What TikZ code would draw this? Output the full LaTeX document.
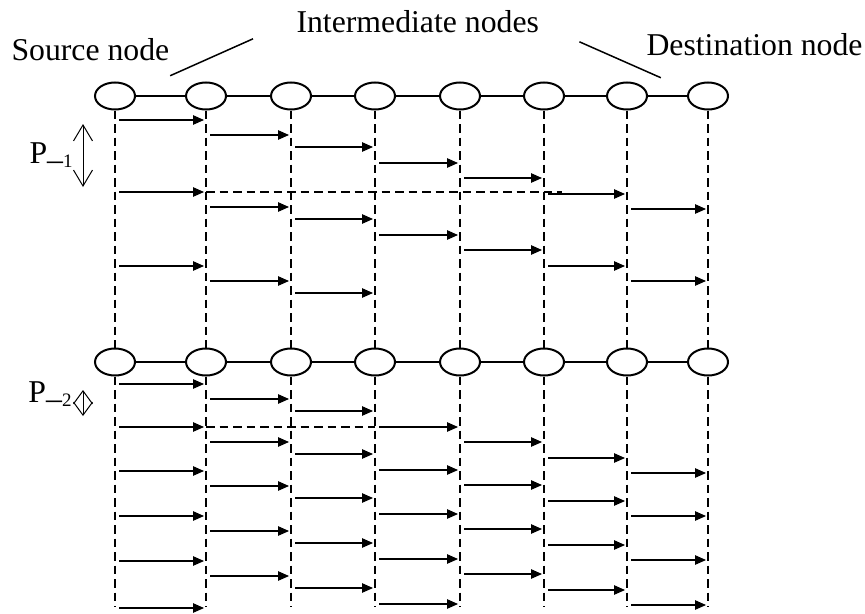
\documentclass[tikz,border=0pt]{standalone}
\usepackage{fontspec}
\setmainfont{Liberation Serif}
\usepackage{tikz}
\usetikzlibrary{shapes.geometric, arrows.meta, calc}

\begin{document}
\begin{tikzpicture}[x=0.4pt, y=-0.4pt, every node/.style={font=\fontsize{12.7}{15}\selectfont}]
      \tikzset{
        peer/.style={ellipse, draw, line width=0.8pt, minimum width=16pt, minimum height=10.8pt, inner sep=0pt},
        link/.style={line width=0.8pt},
        life/.style={line width=0.8pt, dash pattern=on 3.4pt off 2pt},
        hop/.style={-{Triangle[length=4.4pt, width=3.8pt]}, line width=0.45pt},
        lead/.style={line width=0.6pt},
        span/.style={{Straight Barb[length=6.4pt, width=7.6pt]}-{Straight Barb[length=6.4pt, width=7.6pt]}, line width=0.4pt},
        lbl/.style={anchor=base west, inner sep=0pt}
      }
      \useasboundingbox (0,0) rectangle (865,613);

      % two rows of nodes on the path
      \foreach \x [count=\i] in {115,206,291,375,460,544,627,708} {
        \node[peer] (top\i) at (\x,96) {};
        \node[peer] (bot\i) at (\x,362) {};
      }
      \foreach \i [count=\j from 2] in {1,...,7} {
        \draw[link] (top\i) -- (top\j);
        \draw[link] (bot\i) -- (bot\j);
      }
      \foreach \i in {1,...,8} {
        \draw[life] (top\i) -- (bot\i);
        \draw[life] (bot\i) -- (bot\i |- 0,607);
      }

      \node[lbl] (srclabel) at (11,60) {Source node};
      \node[lbl] (midlabel) at (296,32) {Intermediate nodes};
      \node[lbl] (dstlabel) at (646,55) {Destination node};
      \draw[lead] ($(midlabel.south west)+(-43,6)$) -- ($(top2.north west)+(-21,-10)$);
      \draw[lead] ($(midlabel.south east)+(40,9)$) -- ($(top7.north east)+(19,-8)$);

      \node[lbl] (p1) at (29,163) {P\raisebox{0.1em}{\_}\raisebox{-0.14em}{\fontsize{7.6}{8}\selectfont 1}};
      \node[lbl] (p2) at (28,402) {P\raisebox{0.1em}{\_}\raisebox{-0.14em}{\fontsize{7.6}{8}\selectfont 2}};
      \coordinate (p1top) at (83,124);
      \coordinate (p1bot) at (83,187);
      \coordinate (p2top) at (83,390);
      \coordinate (p2bot) at (83,416);
      \draw[span] (p1top) -- (p1bot);
      \draw[span, {Straight Barb[length=5.2pt, width=7.6pt]}-{Straight Barb[length=5.2pt, width=7.6pt]}] (p2top) -- (p2bot);

      % packets hopping along the path
      \foreach \t/\row/\lim in {120/top/300, 192/top/300, 266/top/300, 384/bot/611, 427/bot/611, 471/bot/611, 516/bot/611, 561/bot/611, 608/bot/611}
        \foreach \dy [count=\k] in {0,15,27,43,58,74,89} {
          \pgfmathtruncatemacro{\yy}{\t+\dy}
          \pgfmathtruncatemacro{\kk}{\k+1}
          \ifnum\yy<\lim
            \draw[hop] ($(\row\k |- 0,\yy)+(4,0)$) -- ($(\row\kk |- 0,\yy)+(-2,0)$);
          \fi
        }
      \draw[life] (top2 |- 0,192) -- ($(top6 |- 0,192)+(18,0)$);
      \draw[life] (bot2 |- 0,427) -- (bot4 |- 0,427);
    \end{tikzpicture}
\end{document}
